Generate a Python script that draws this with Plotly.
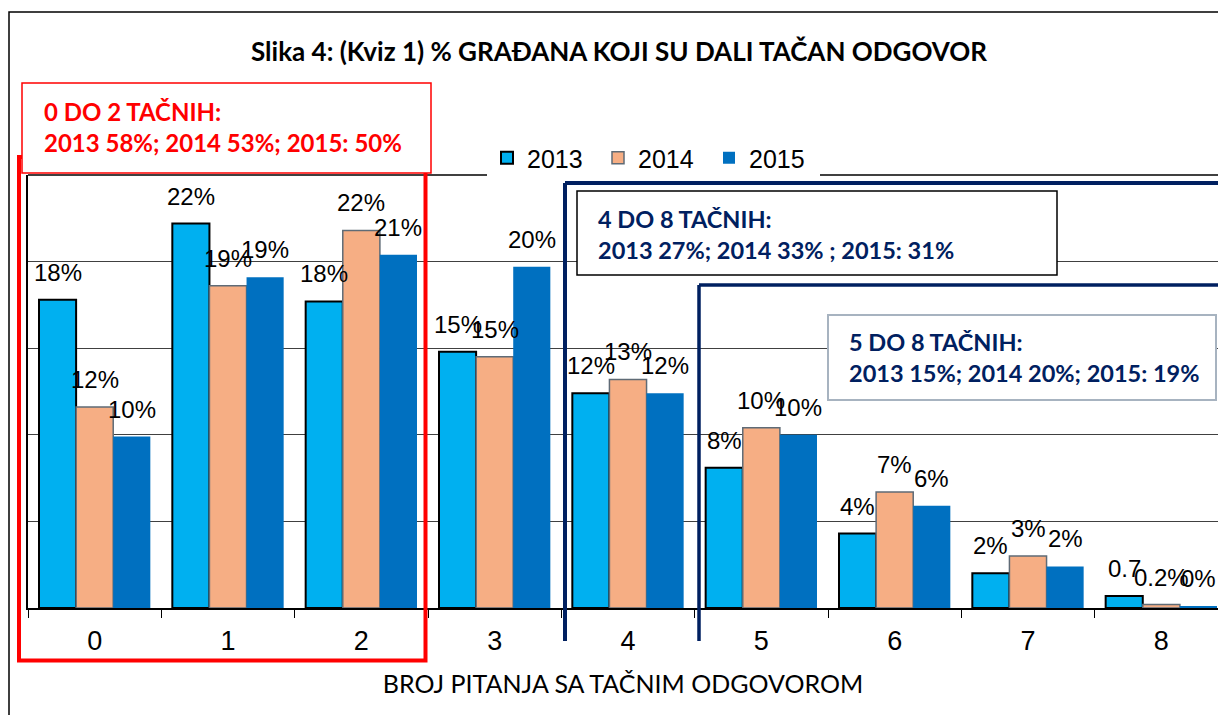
import plotly.graph_objects as go

# ---------------- data ----------------
categories = ["0", "1", "2", "3", "4", "5", "6", "7", "8"]
years = ["2013", "2014", "2015"]
values_2013 = [17.8, 22.2, 17.7, 14.8, 12.4, 8.1, 4.3, 2.0, 0.7]
values_2014 = [11.6, 18.6, 21.8, 14.5, 13.2, 10.4, 6.7, 3.0, 0.2]
values_2015 = [9.9, 19.1, 20.4, 19.7, 12.4, 10.0, 5.9, 2.4, 0.1]
labels_2013 = ["18%", "22%", "18%", "15%", "12%", "8%", "4%", "2%", "0.7"]
labels_2014 = ["12%", "19%", "22%", "15%", "13%", "10%", "7%", "3%", "0.2%"]
labels_2015 = ["10%", "19%", "21%", "20%", "12%", "10%", "6%", "2%", "0%"]

title_text = "Slika 4: (Kviz 1) % GRAĐANA KOJI SU DALI TAČAN ODGOVOR"
x_title = "BROJ PITANJA SA TAČNIM ODGOVOROM"
box1_lines = ["0 DO 2 TAČNIH:", "2013 58%; 2014 53%; 2015: 50%"]
box2_lines = ["4 DO 8 TAČNIH:", "2013 27%; 2014 33% ; 2015: 31%"]
box3_lines = ["5 DO 8 TAČNIH:", "2013 15%; 2014 20%; 2015: 19%"]

# ---------------- style ----------------
W, H = 1218, 715
L, T, B = 28, 175, 608
PW, PH = 1190, B - T
BARGAP = 0.165
colors = ["#00B0F0", "#F6AE84", "#0070C0"]
line_colors = ["#000000", "#5F6B76", "#0070C0"]
line_widths = [2, 1.5, 0]
NAVY = "#002060"
ARIAL = "Liberation Sans, Arial, sans-serif"
CAL = "Lato, Carlito, Calibri, sans-serif"


def px(xp):
    return (xp - L) / PW


def py(yp):
    return (B - yp) / PH


series = [values_2013, values_2014, values_2015]
labels = [labels_2013, labels_2014, labels_2015]

fig = go.Figure()
for k, yr in enumerate(years):
    fig.add_trace(go.Bar(
        x=categories, y=series[k], name=yr,
        marker=dict(color=colors[k], line=dict(color=line_colors[k], width=line_widths[k])),
        hoverinfo="skip",
    ))

# data labels
w = (1 - BARGAP) / 3
annotations = []
for k in range(3):
    for j, (v, lab) in enumerate(zip(series[k], labels[k])):
        annotations.append(dict(
            x=j + (k - 1) * w, y=v, xref="x", yref="y", text=lab,
            showarrow=False, xanchor="center", yanchor="bottom", yshift=12,
            font=dict(family=ARIAL, size=24, color="#000000"),
        ))


def box_text(lines, x, y, color, size=24):
    return dict(
        x=px(x), y=py(y), xref="paper", yref="paper",
        text="<b>" + "<br>".join(lines) + "</b>",
        showarrow=False, xanchor="left", yanchor="middle", align="left",
        font=dict(family=CAL, size=size, color=color),
    )


annotations.append(box_text(box1_lines, 42, 127, "#FF0000"))
annotations.append(box_text(box2_lines, 596, 234, NAVY, 23.5))
annotations.append(box_text(box3_lines, 847, 357, NAVY, 23.5))


def rect(x0, y0, x1, y1, color, width, fill=None):
    return dict(type="rect", xref="paper", yref="paper",
                x0=px(x0), x1=px(x1), y0=py(y0), y1=py(y1),
                line=dict(color=color, width=width),
                fillcolor=fill if fill else "rgba(0,0,0,0)", layer="above")


def hline(x0, x1, y, color, width):
    return dict(type="line", xref="paper", yref="paper",
                x0=px(x0), x1=px(x1), y0=py(y), y1=py(y),
                line=dict(color=color, width=width), layer="above")


def vline(x, y0, y1, color, width):
    return dict(type="line", xref="paper", yref="paper",
                x0=px(x), x1=px(x), y0=py(y0), y1=py(y1),
                line=dict(color=color, width=width), layer="above")


shapes = [
    rect(9, 12, 1250, 740, "#000000", 1.5),
    hline(28, 1250, 175, "#000000", 1.5),
    rect(19, 157, 425.5, 660.5, "#FF0000", 4),
    rect(22, 83, 431, 173, "#FF0000", 1.5, "#FFFFFF"),
    vline(565, 641, 183, NAVY, 4),
    hline(565, 1250, 183, NAVY, 4),
    vline(699, 641, 285, NAVY, 3.5),
    hline(699, 1250, 285, NAVY, 3.5),
    rect(577, 191, 1057, 275, "#000000", 1.5, "#FFFFFF"),
    rect(828, 315, 1216, 400, "#A7B3C0", 2, "#FFFFFF"),
]

fig.update_layout(
    width=W, height=H,
    margin=dict(l=L, r=0, t=T, b=H - B, pad=0),
    paper_bgcolor="#FFFFFF", plot_bgcolor="#FFFFFF",
    barmode="group", bargap=BARGAP, bargroupgap=0,
    title=dict(text="<b>" + title_text + "</b>", x=619 / W, xanchor="center",
               y=1 - 52 / H, yanchor="middle",
               font=dict(family=CAL, size=26, color="#000000")),
    legend=dict(orientation="h", x=px(487), xanchor="left", y=py(158), yanchor="middle",
                bgcolor="#FFFFFF", borderwidth=0, entrywidth=66,
                font=dict(family=ARIAL, size=25, color="#000000")),
    annotations=annotations,
    shapes=shapes,
    hovermode=False,
)
fig.update_xaxes(
    type="category", range=[-0.5, 8.5 - 10 / 133.4],
    tickson="boundaries", ticks="outside", ticklen=8, tickcolor="#000000", tickwidth=1,
    showline=True, linecolor="#000000", linewidth=2, showgrid=False,
    tickfont=dict(family=ARIAL, size=27, color="#000000"), ticklabelstandoff=8,
    title=dict(text=x_title, font=dict(family=CAL, size=25, color="#000000"), standoff=20),
)
fig.update_yaxes(
    range=[0, 25], dtick=5, showticklabels=False, ticks="",
    showgrid=True, gridcolor="#404040", gridwidth=1, zeroline=False,
    showline=True, linecolor="#000000", linewidth=1.5,
)

fig.write_html("out.html", config={"displayModeBar": False},
               post_script="document.body.style.margin='0';")
